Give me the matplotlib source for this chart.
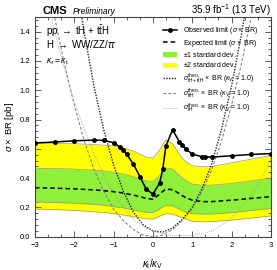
import numpy as np
import matplotlib
matplotlib.use('Agg')
import matplotlib.pyplot as plt
from matplotlib.ticker import MultipleLocator
from matplotlib.lines import Line2D
from matplotlib.patches import Patch

plt.rcParams['font.family'] = ['Liberation Sans', 'DejaVu Sans']
plt.rcParams['mathtext.fontset'] = 'custom'
plt.rcParams['mathtext.rm'] = 'Liberation Sans'
plt.rcParams['mathtext.it'] = 'Liberation Sans:italic'
plt.rcParams['mathtext.bf'] = 'Liberation Sans:bold'

# limits vs kt/kV
kt = [-3, -2.5, -2, -1.5, -1.25, -1, -0.83, -0.75, -0.67, -0.5, -0.33, -0.17, 0,
      0.17, 0.25, 0.33, 0.5, 0.67, 0.75, 0.83, 1, 1.25, 1.33, 1.5, 2, 2.5, 3]
observed = [0.640, 0.647, 0.655, 0.660, 0.658, 0.642, 0.612, 0.592, 0.565, 0.498, 0.410, 0.325, 0.292,
            0.366, 0.460, 0.620, 0.730, 0.650, 0.628, 0.600, 0.565, 0.546, 0.546, 0.544, 0.553, 0.562, 0.568]
expected = [0.335, 0.332, 0.327, 0.320, 0.315, 0.308, 0.302, 0.298, 0.294, 0.285, 0.274, 0.262, 0.256,
            0.290, 0.310, 0.325, 0.322, 0.295, 0.280, 0.268, 0.250, 0.240, 0.240, 0.240, 0.250, 0.262, 0.274]
plus1 = [0.468, 0.466, 0.462, 0.455, 0.450, 0.440, 0.432, 0.428, 0.423, 0.410, 0.395, 0.382, 0.377,
         0.420, 0.450, 0.470, 0.462, 0.420, 0.400, 0.385, 0.360, 0.352, 0.352, 0.352, 0.365, 0.382, 0.400]
minus1 = [0.238, 0.234, 0.229, 0.222, 0.216, 0.206, 0.200, 0.197, 0.193, 0.183, 0.175, 0.168, 0.165,
          0.190, 0.205, 0.215, 0.210, 0.190, 0.178, 0.170, 0.158, 0.155, 0.155, 0.156, 0.165, 0.180, 0.194]
plus2 = [0.640, 0.638, 0.635, 0.630, 0.625, 0.620, 0.612, 0.607, 0.600, 0.585, 0.565, 0.545, 0.537,
         0.590, 0.630, 0.660, 0.635, 0.565, 0.535, 0.515, 0.485, 0.478, 0.478, 0.480, 0.505, 0.530, 0.555]
minus2 = [0.190, 0.186, 0.180, 0.171, 0.166, 0.158, 0.152, 0.148, 0.145, 0.137, 0.130, 0.123, 0.120,
          0.140, 0.150, 0.158, 0.155, 0.138, 0.130, 0.122, 0.105, 0.103, 0.103, 0.104, 0.114, 0.128, 0.142]

# theory curves (kV = 1)
kt_theo = [-3, -2.75, -2.5, -2.25, -2, -1.75, -1.5, -1.25, -1, -0.75, -0.5, -0.25, 0,
           0.25, 0.5, 0.75, 1, 1.25, 1.5, 1.75, 2, 2.25, 2.5, 2.75, 3]
xs_tth = [2.25, 1.85, 1.50, 1.18, 0.90, 0.66, 0.46, 0.31, 0.19, 0.11, 0.05, 0.012, 0.0,
          0.012, 0.05, 0.11, 0.19, 0.31, 0.46, 0.66, 0.90, 1.18, 1.50, 1.85, 2.25]
xs_th = [2.00, 1.70, 1.40, 1.15, 0.92, 0.74, 0.57, 0.42, 0.30, 0.20, 0.12, 0.07, 0.04,
         0.02, 0.01, 0.01, 0.01, 0.02, 0.04, 0.08, 0.13, 0.20, 0.28, 0.39, 0.53]
xs_tot = [4.25, 3.55, 2.90, 2.33, 1.82, 1.40, 1.03, 0.73, 0.49, 0.31, 0.17, 0.082, 0.04,
          0.032, 0.06, 0.12, 0.20, 0.33, 0.50, 0.74, 1.03, 1.38, 1.78, 2.24, 2.78]

fig = plt.figure(figsize=(2.77, 2.70), dpi=100)
ax = fig.add_axes([0.126, 0.123, 0.852, 0.814])

ax.fill_between(kt, minus2, plus2, color='#ffff00', lw=0, zorder=1)
ax.fill_between(kt, minus1, plus1, color='#8ef03b', lw=0, zorder=2)
for b in (plus2, minus2, plus1, minus1):
    ax.plot(kt, b, color='#9a9a6a', lw=0.5, zorder=3)

ax.plot(kt_theo, xs_tot, color='#222222', ls=(0, (1, 1)), lw=1.0, zorder=4)
ax.plot(kt_theo, xs_tth, color='#777777', ls=(0, (3, 2)), lw=0.7, zorder=4)
ax.plot(kt_theo, xs_th, color='#999999', ls=(0, (1, 1.5)), lw=0.6, zorder=4)

ax.plot(kt, expected, color='black', ls=(0, (3, 2)), lw=1.1, zorder=5)
ax.plot(kt, observed, color='black', lw=1.1, marker='o', ms=2.5, zorder=6)

ax.set_xlim(-3, 3)
ax.set_ylim(0, 1.5)
ax.xaxis.set_major_locator(MultipleLocator(1))
ax.xaxis.set_minor_locator(MultipleLocator(1 / 3))
ax.yaxis.set_major_locator(MultipleLocator(0.2))
ax.yaxis.set_minor_locator(MultipleLocator(0.04))
ax.tick_params(which='both', direction='in', top=True, right=True, labelsize=5.5,
               color='#444444', width=0.6)
ax.tick_params(which='major', length=4)
ax.tick_params(which='minor', length=2)
ax.set_yticks([0, 0.2, 0.4, 0.6, 0.8, 1.0, 1.2, 1.4])
ax.set_yticklabels(['0.0', '0.2', '0.4', '0.6', '0.8', '1.0', '1.2', '1.4'])
for s in ax.spines.values():
    s.set_linewidth(0.8)
    s.set_color('#444444')

ax.set_xlabel(r'$\kappa_\mathrm{t}/\kappa_\mathrm{V}$', fontsize=7, labelpad=6)
ax.set_ylabel(r'$\sigma\times$ BR [pb]', fontsize=6.8)
ax.yaxis.set_label_coords(-0.082, 0.5)

ax.text(0.045, 0.935, r'pp $\rightarrow$ tH + t$\bar{\mathrm{t}}$H', transform=ax.transAxes,
        fontsize=7, va='center')
ax.text(0.045, 0.878, r'H $\rightarrow$ WW/ZZ/$\tau\tau$', transform=ax.transAxes,
        fontsize=7, va='center')
ax.text(0.045, 0.795, r'$\kappa_\tau = \kappa_\mathrm{t}$', transform=ax.transAxes,
        fontsize=6.3, va='center')

fig.text(0.152, 0.948, 'CMS', fontsize=8, fontweight='bold', va='baseline')
fig.text(0.262, 0.948, 'Preliminary', fontsize=6.2, style='italic', va='baseline')
fig.text(0.978, 0.948, r'35.9 fb$^{-1}$ (13 TeV)', fontsize=7, ha='right', va='baseline')

handles = [
    Line2D([], [], color='black', lw=1.1, marker='o', ms=2.5),
    Line2D([], [], color='black', ls=(0, (3, 2)), lw=1.1),
    Patch(facecolor='#8ef03b', edgecolor='none'),
    Patch(facecolor='#ffff00', edgecolor='none'),
    Line2D([], [], color='#222222', ls=(0, (1, 1)), lw=1.0),
    Line2D([], [], color='#777777', ls=(0, (3, 2)), lw=0.7),
    Line2D([], [], color='#999999', ls=(0, (1, 1.5)), lw=0.6),
]
labels = [
    r'Observed limit ($\sigma\times$ BR)',
    r'Expected limit ($\sigma\times$ BR)',
    r'$\pm$1 standard dev.',
    r'$\pm$2 standard dev.',
    r'$\sigma^{\mathrm{theo.}}_{\mathrm{tH+t\bar{t}H}}\times$ BR ($\kappa_V$ = 1.0)',
    r'$\sigma^{\mathrm{theo.}}_{\mathrm{t\bar{t}H}}\times$ BR ($\kappa_V$ = 1.0)',
    r'$\sigma^{\mathrm{theo.}}_{\mathrm{tH}}\times$ BR ($\kappa_V$ = 1.0)',
]
ax.legend(handles, labels, loc='upper left', bbox_to_anchor=(0.53, 0.975), frameon=False,
          fontsize=5, handlelength=2.0, handletextpad=0.9, labelspacing=0.2,
          borderaxespad=0)

fig.savefig('out.png', dpi=100)
